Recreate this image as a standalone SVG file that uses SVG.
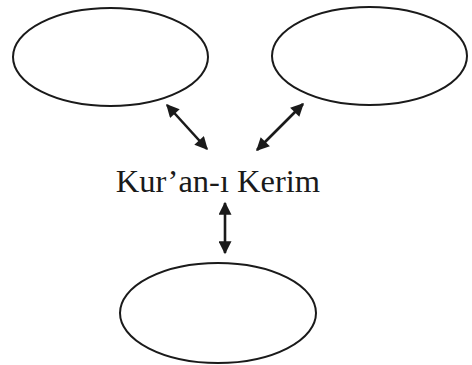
<svg xmlns="http://www.w3.org/2000/svg" width="472" height="365" viewBox="0 0 472 365">
<style>
.n{fill:none;stroke:#1a1a1a;stroke-width:2}
.c{stroke:#1a1a1a;stroke-width:2.6;fill:none}
.t{font-family:"Liberation Serif",serif;font-size:32.5px;fill:#1a1a1a}
</style>
<defs>
<marker id="ah" viewBox="0 0 10 10" refX="9" refY="5" markerWidth="5.5" markerHeight="5" orient="auto-start-reverse" markerUnits="strokeWidth">
<path d="M0,0 L10,5 L0,10 Z" fill="#1a1a1a"/>
</marker>
</defs>
<g id="node-left"><ellipse class="n" cx="110.5" cy="57" rx="97.5" ry="49"/></g>
<g id="node-right"><ellipse class="n" cx="369.5" cy="56" rx="97.5" ry="49"/></g>
<g id="node-bottom"><ellipse class="n" cx="218" cy="313" rx="98" ry="50"/></g>
<g id="node-center"><text class="t" x="218" y="192" text-anchor="middle">Kur’an-ı Kerim</text></g>
<g id="connectors">
<line class="c" x1="167" y1="105" x2="207" y2="149" marker-start="url(#ah)" marker-end="url(#ah)"/>
<line class="c" x1="303" y1="104" x2="257" y2="150" marker-start="url(#ah)" marker-end="url(#ah)"/>
<line class="c" x1="225" y1="203" x2="225" y2="253" marker-start="url(#ah)" marker-end="url(#ah)"/>
</g>
</svg>
